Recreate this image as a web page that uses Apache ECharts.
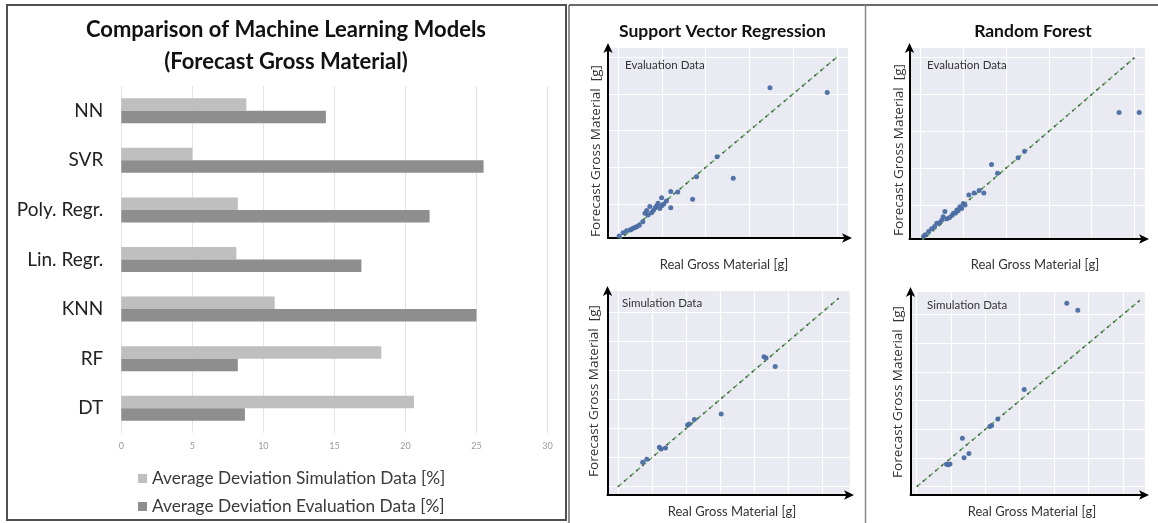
<!DOCTYPE html>
<html><head><meta charset="utf-8">
<script src="https://cdn.jsdelivr.net/npm/echarts@6/dist/echarts.min.js"></script>
<style>html,body{margin:0;padding:0;background:#fff}#c{width:1158px;height:523px}</style>
</head><body><div id="c"></div>
<script>
// ---- Data ----
const categories = ['NN', 'SVR', 'Poly. Regr.', 'Lin. Regr.', 'KNN', 'RF', 'DT'];
const simDeviation = [8.8, 5.0, 8.2, 8.1, 10.8, 18.3, 20.6];
const evalDeviation = [14.4, 25.5, 21.7, 16.9, 25.0, 8.2, 8.7];
const barTicks = [0, 5, 10, 15, 20, 25, 30];
const seriesNames = ['Average Deviation Simulation Data [%]', 'Average Deviation Evaluation Data [%]'];

// scatter: [real, forecast] (g)
const svrEval = [[2,13],[11,22],[19,27],[27,29],[30,31],[34,34],[38,36],[42,38],[48,42],[56,52],[61,75],[65,82],[68,70],[72,93],[76,76],[80,82],[84,90],[88,95],[91,102],[95,88],[99,117],[100,96],[104,100],[110,108],[120,134],[120,90],[136,133],[170,113],[179,174],[226,229],[263,170],[347,417],[478,404]];
const rfEval = [[7,14],[11,19],[19,28],[26,35],[33,41],[38,50],[45,52],[50,59],[53,68],[57,82],[62,62],[68,66],[74,72],[77,77],[82,78],[85,86],[88,84],[92,95],[96,90],[100,104],[104,100],[113,127],[125,132],[137,139],[148,132],[166,210],[180,186],[228,228],[243,246],[464,351],[511,351]];
const svrSim = [[73,84],[85,95],[122,136],[127,130],[140,133],[205,213],[210,216],[225,232],[304,251],[430,448],[436,444],[463,414]];
const rfSim = [[87,78],[92,76],[97,79],[133,169],[138,101],[152,116],[213,210],[218,213],[236,236],[313,339],[437,639],[469,615]];
const diagEval = [[0,0],[500,500]];
const diagSim = [[0,0],[650,650]];

const plotTitles = ['Support Vector Regression', 'Random Forest'];
const dataLabels = ['Evaluation Data', 'Simulation Data'];
const xName = 'Real Gross Material [g]';
const yName = 'Forecast Gross Material  [g]';

// ---- Layout ----
const scatterPanels = [
  {data: svrEval, diag: diagEval, grid: {left: 608, top: 47, width: 240, height: 191}, x: [-23.6, 525.6], y: [7.4, 527.8]},
  {data: rfEval, diag: diagEval, grid: {left: 909.5, top: 47, width: 235.5, height: 192}, x: [-25.7, 524.5], y: [7.3, 529]},
  {data: svrSim, diag: diagSim, grid: {left: 607.5, top: 290, width: 242.5, height: 205}, x: [-30.6, 683], y: [-28.6, 678]},
  {data: rfSim, diag: diagSim, grid: {left: 910.5, top: 291, width: 234.5, height: 204}, x: [-18, 664.6], y: [-29, 682]}
];

const chart = echarts.init(document.getElementById('c'), null, {renderer: 'canvas'});

const grids = [{left: 121.3, top: 86, width: 426.2, height: 347, show: false}];
const xAxes = [{
  type: 'value', gridIndex: 0, min: barTicks[0], max: barTicks[barTicks.length - 1], interval: barTicks[1] - barTicks[0],
  axisLine: {show: false}, axisTick: {show: false},
  axisLabel: {color: '#9a9a9a', fontSize: 9, fontFamily: 'Lato', margin: 9},
  splitLine: {show: true, lineStyle: {color: '#e3e3e3', width: 1}}
}];
const yAxes = [{
  type: 'category', gridIndex: 0, data: categories, inverse: true,
  axisLine: {show: false}, axisTick: {show: false},
  axisLabel: {color: '#222', fontSize: 19, fontFamily: 'Lato', margin: 18}
}];
const series = [
  {name: seriesNames[0], type: 'bar', xAxisIndex: 0, yAxisIndex: 0, data: simDeviation, barGap: '0%', barCategoryGap: '49.5%', itemStyle: {color: '#bfbfbf'}, silent: true},
  {name: seriesNames[1], type: 'bar', xAxisIndex: 0, yAxisIndex: 0, data: evalDeviation, barGap: '0%', barCategoryGap: '49.5%', itemStyle: {color: '#8e8e8e'}, silent: true}
];

scatterPanels.forEach((p, i) => {
  const gi = i + 1;
  grids.push(Object.assign({show: true, backgroundColor: '#eaeaf2', borderWidth: 0}, p.grid));
  const axisCommon = {
    type: 'value', gridIndex: gi, splitNumber: 5,
    axisLabel: {show: false}, axisTick: {show: false},
    axisLine: {show: true, onZero: false, symbol: ['none', 'arrow'], symbolSize: [7, 10], symbolOffset: [0, 4], lineStyle: {color: '#000', width: 2}},
    splitLine: {show: true, lineStyle: {color: '#ffffff', width: 1.2}}
  };
  xAxes.push(Object.assign({}, axisCommon, {min: p.x[0], max: p.x[1]}));
  yAxes.push(Object.assign({}, axisCommon, {min: p.y[0], max: p.y[1]}));
  series.push({type: 'line', xAxisIndex: gi, yAxisIndex: gi, data: p.diag, symbol: 'none', silent: true,
    lineStyle: {color: '#62ad5f', width: 1.5, type: [5, 3]}, z: 3});
  series.push({type: 'line', xAxisIndex: gi, yAxisIndex: gi, data: p.diag, symbol: 'none', silent: true,
    lineStyle: {color: '#555555', width: 1.5, type: [2, 6], dashOffset: 0}, z: 3});
  series.push({type: 'scatter', xAxisIndex: gi, yAxisIndex: gi, data: p.data, symbolSize: 5, silent: true,
    itemStyle: {color: '#4a6da3', opacity: 0.95}, z: 4});
});

function txt(text, x, y, font, color, align, rot) {
  return {type: 'text', x: x, y: y, rotation: rot || 0, silent: true, z: 100,
    style: {text: text, font: font, fill: color || '#222', textAlign: align || 'center', textVerticalAlign: 'middle'}};
}
const graphics = [
  // frames
  {type: 'rect', shape: {x: 7, y: 5, width: 559, height: 515}, style: {fill: 'none', stroke: '#505050', lineWidth: 2}, silent: true},
  {type: 'line', shape: {x1: 569, y1: 5, x2: 1158, y2: 5}, style: {stroke: '#6a6a6a', lineWidth: 2}, silent: true},
  {type: 'line', shape: {x1: 569, y1: 5, x2: 569, y2: 523}, style: {stroke: '#6a6a6a', lineWidth: 1.5}, silent: true},
  {type: 'line', shape: {x1: 865.5, y1: 5, x2: 865.5, y2: 523}, style: {stroke: '#8a8a8a', lineWidth: 1.5}, silent: true},
  // left title
  txt('Comparison of Machine Learning Models', 286, 30, 'bold 22px Lato', '#111'),
  txt('(Forecast Gross Material)', 286, 62, 'bold 22px Lato', '#111'),
  // right titles
  txt(plotTitles[0], 722.5, 31, 'bold 17.5px Lato', '#111'),
  txt(plotTitles[1], 1033, 31, 'bold 17.5px Lato', '#111'),
  // in-plot labels
  txt(dataLabels[0], 625, 65, '11.5px Lato', '#333', 'left'),
  txt(dataLabels[0], 927, 65, '11.5px Lato', '#333', 'left'),
  txt(dataLabels[1], 622, 303, '11.5px Lato', '#333', 'left'),
  txt(dataLabels[1], 927, 305, '11.5px Lato', '#333', 'left'),
  // x names
  txt(xName, 724, 265, '13px Lato', '#333'),
  txt(xName, 1035, 265, '13px Lato', '#333'),
  txt(xName, 732, 512, '13px Lato', '#333'),
  txt(xName, 1032, 512, '13px Lato', '#333'),
  // y names
  txt(yName, 596, 151, '13.5px "Open Sans"', '#333', 'center', Math.PI / 2),
  txt(yName, 899, 150, '13.5px "Open Sans"', '#333', 'center', Math.PI / 2),
  txt(yName, 594, 391, '13.5px "Open Sans"', '#333', 'center', Math.PI / 2),
  txt(yName, 898, 392, '13.5px "Open Sans"', '#333', 'center', Math.PI / 2)
];

chart.setOption({
  animation: false,
  backgroundColor: '#ffffff',
  legend: {
    orient: 'vertical', left: 133, top: 465, itemWidth: 9, itemHeight: 9, itemGap: 11,
    icon: 'rect', data: seriesNames,
    textStyle: {fontSize: 17.3, fontFamily: 'Lato', color: '#3a3a3a'}
  },
  grid: grids,
  xAxis: xAxes,
  yAxis: yAxes,
  series: series,
  graphic: graphics
});
</script>
</body></html>
